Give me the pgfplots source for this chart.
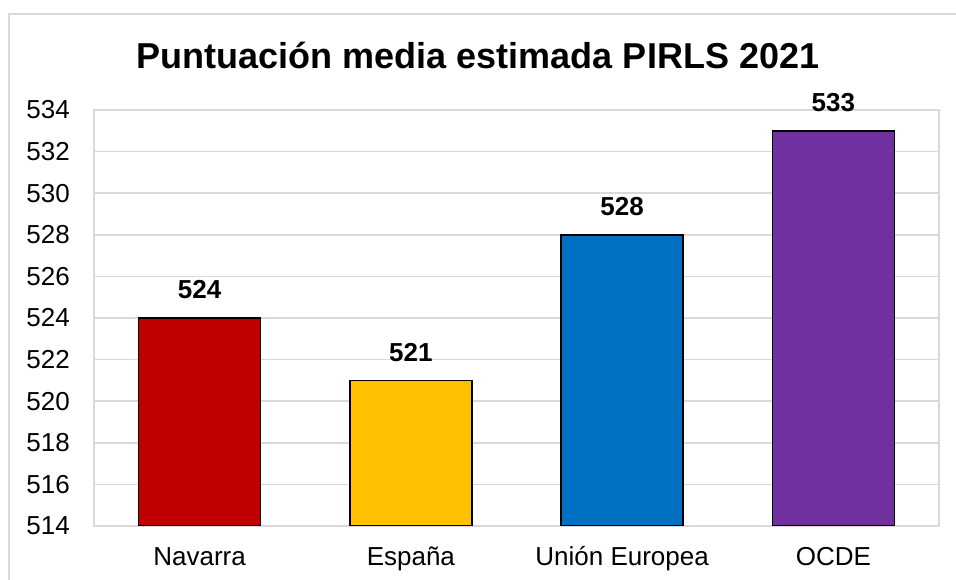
\documentclass[border=0pt]{standalone}
\usepackage{pgfplots}
\pgfplotsset{compat=1.18}
\usepackage{fontspec}
\setmainfont{Liberation Sans}
\definecolor{gridgray}{HTML}{D9D9D9}
\definecolor{cNav}{HTML}{C00000}
\definecolor{cEsp}{HTML}{FFC000}
\definecolor{cUE}{HTML}{0070C0}
\definecolor{cOC}{HTML}{7030A0}
\begin{document}
\begin{tikzpicture}
\path[use as bounding box] (0,0) rectangle (956bp,580bp);
\draw[gridgray, line width=1.5bp] (9bp,566bp) rectangle (1000bp,-20bp);
\node[anchor=base, font=\fontsize{36bp}{40bp}\selectfont\bfseries] at (478bp,511bp) {Puntuación media estimada PIRLS 2021};
\begin{axis}[
  at={(94bp,54bp)}, anchor=south west,
  scale only axis, width=845bp, height=416bp,
  xmin=-0.5, xmax=3.5, ymin=514, ymax=534,
  ytick={514,516,...,534},
  xtick={0,1,2,3},
  xticklabels={Navarra,España,Unión Europea,OCDE},
  axis line style={gridgray, line width=1.5bp},
  ymajorgrids, grid style={gridgray, line width=1.5bp},
  major tick length=0pt,
  tick style={draw=none},
  /pgf/number format/assume math mode=true,
  /pgf/number format/1000 sep={},
  ticklabel style={font=\fontsize{26bp}{30bp}\selectfont, inner sep=0pt},
  yticklabel style={anchor=east, xshift=-24bp},
  xticklabel style={anchor=base, yshift=-39bp},
  ybar, bar width=122bp, bar shift=0pt,
  nodes near coords,
  every node near coord/.style={font=\fontsize{26bp}{30bp}\selectfont\bfseries, anchor=south, inner sep=0pt, yshift=18bp, text=black},
  nodes near coords style={/pgf/number format/assume math mode=true},
]
\addplot[fill=cNav, draw=black, line width=1.5bp] coordinates {(0,524)};
\addplot[fill=cEsp, draw=black, line width=1.5bp] coordinates {(1,521)};
\addplot[fill=cUE, draw=black, line width=1.5bp] coordinates {(2,528)};
\addplot[fill=cOC, draw=black, line width=1.5bp] coordinates {(3,533)};
\end{axis}
\end{tikzpicture}
\end{document}
